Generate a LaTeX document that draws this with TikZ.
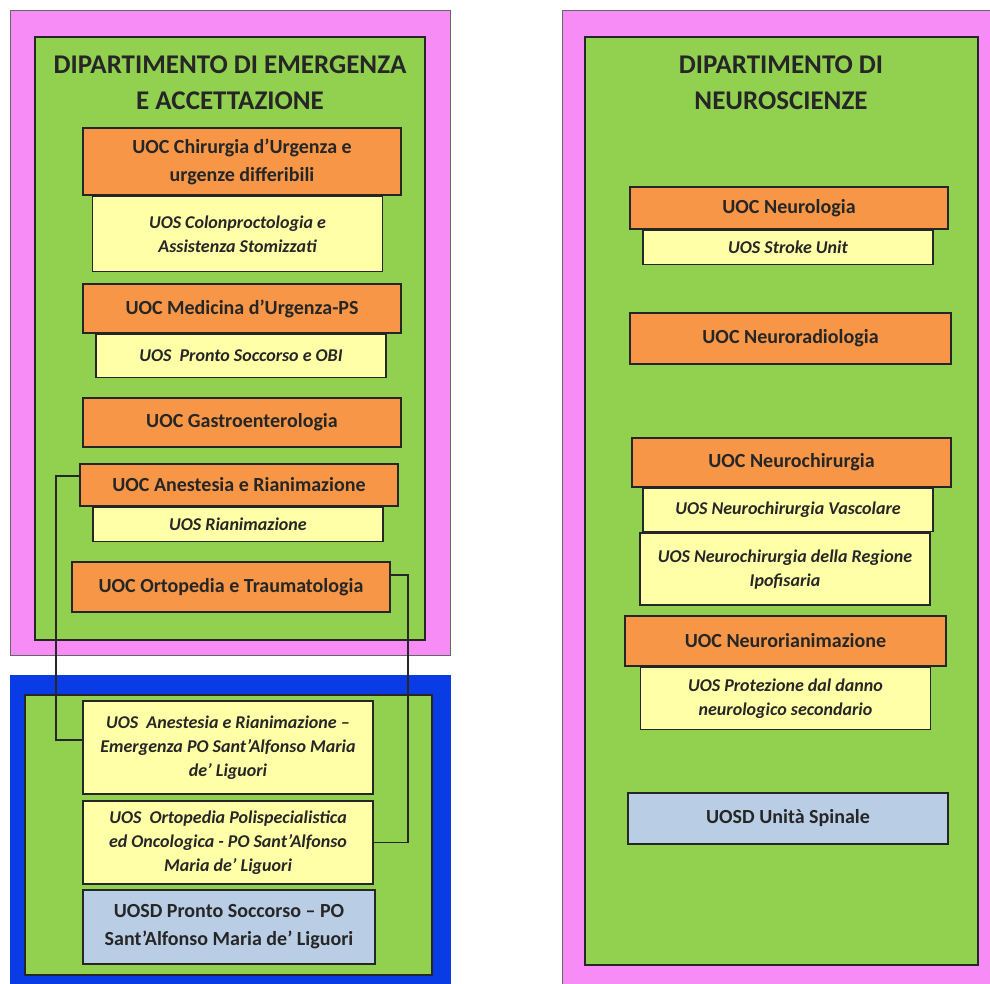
\documentclass[tikz,border=0pt]{standalone}
\usepackage{fontspec}
\setmainfont{Carlito}
\usetikzlibrary{positioning}
\definecolor{dippink}{HTML}{F78CF7}
\definecolor{dipgreen}{HTML}{92D050}
\definecolor{uocorange}{HTML}{F79646}
\definecolor{uosyellow}{HTML}{FFFFA8}
\definecolor{uosdblue}{HTML}{B9CDE5}
\definecolor{psblue}{HTML}{0A3CE6}
\definecolor{inkdark}{HTML}{262626}

\tikzset{
  frame/.style={draw=black!60,line width=0.8pt},
  dipbox/.style={draw=inkdark,line width=1.6pt,fill=dipgreen},
  diptitle/.style={align=center,text=inkdark,font=\fontsize{27}{36}\selectfont\bfseries},
  uoc/.style={draw=inkdark,line width=1.6pt,fill=uocorange,minimum width=318pt,inner sep=0pt,
    align=center,text=inkdark,font=\fontsize{20}{28}\selectfont\bfseries},
  uos/.style={draw=inkdark,line width=1.6pt,fill=uosyellow,minimum width=290pt,inner sep=0pt,
    align=center,text=inkdark,font=\fontsize{18}{24}\selectfont\bfseries\itshape},
  uosd/.style={draw=inkdark,line width=1.6pt,fill=uosdblue,minimum width=320pt,inner sep=0pt,
    align=center,text=inkdark,font=\fontsize{20}{28}\selectfont\bfseries},
  link/.style={draw=inkdark,line width=1.8pt}
}

\begin{document}
\begin{tikzpicture}[x=1pt,y=-1pt]
  \useasboundingbox[fill=white] (0,0) rectangle (990,983);

  % frames
  \draw[frame,fill=dippink] (10,10) rectangle (450,655);
  \draw[dipbox] (35,37) rectangle (425,640);
  \draw[frame,draw=psblue,fill=psblue] (10,675) rectangle (450,990);
  \draw[dipbox] (25,695) rectangle (432,975);
  \draw[frame,fill=dippink] (562,10) rectangle (995,990);
  \draw[dipbox] (585,37) rectangle (978,965);

  % titles
  \node[diptitle] (dea) at (230,83) {DIPARTIMENTO DI EMERGENZA\\E ACCETTAZIONE};
  \node[diptitle] (neuro) at (781,83) {DIPARTIMENTO DI\\NEUROSCIENZE};

  % emergenza e accettazione
  \node[uoc,minimum height=67pt] (chir) at (242,161.5) {UOC Chirurgia d'Urgenza e\\urgenze differibili};
  \node[uos,minimum height=75pt,below=0pt of chir,xshift=-4.5pt] (colon) {UOS Colonproctologia e\\Assistenza Stomizzati};
  \node[uoc,minimum height=49pt] (med) at (242,308.5) {UOC Medicina d'Urgenza-PS};
  \node[uos,minimum height=43pt,below=0pt of med,xshift=-1pt] (obi) {UOS\ \ Pronto Soccorso e OBI};
  \node[uoc,minimum height=49pt] (gastro) at (242,422.5) {UOC Gastroenterologia};
  \node[uoc,minimum height=42pt] (ane) at (239,485) {UOC Anestesia e Rianimazione};
  \node[uos,minimum height=34pt,below=0pt of ane,xshift=-1pt] (rian) {UOS Rianimazione};
  \node[uoc,minimum height=50pt] (orto) at (231,587) {UOC Ortopedia e Traumatologia};

  % presidio sant'alfonso
  \node[uos,minimum height=93pt] (uosane) at (228,747.5) {UOS\ \ Anestesia e Rianimazione --\\Emergenza PO Sant'Alfonso Maria\\de' Liguori};
  \node[uos,minimum height=83pt] (uosorto) at (228,842.5) {UOS\ \ Ortopedia Polispecialistica\\ed Oncologica - PO Sant'Alfonso\\Maria de' Liguori};
  \node[uosd,minimum width=292pt,minimum height=74pt] (ps) at (229,927) {UOSD Pronto Soccorso -- PO\\Sant'Alfonso Maria de' Liguori};

  % neuroscienze
  \node[uoc,minimum height=42pt] (neurol) at (789,208) {UOC Neurologia};
  \node[uos,minimum height=34pt,below=0pt of neurol,xshift=-1pt] (stroke) {UOS Stroke Unit};
  \node[uoc,minimum width=321pt,minimum height=51pt] (nrad) at (790.5,338.5) {UOC Neuroradiologia};
  \node[uoc,minimum width=319pt,minimum height=49pt] (nchir) at (791.5,462.5) {UOC Neurochirurgia};
  \node[uos,minimum height=43pt,below=0pt of nchir,xshift=-3.5pt] (vasc) {UOS Neurochirurgia Vascolare};
  \node[uos,minimum height=72pt,below=0pt of vasc,xshift=-3pt] (ipo) {UOS Neurochirurgia della Regione\\Ipofisaria};
  \node[uoc,minimum width=321pt,minimum height=50pt] (nrian) at (785.5,641) {UOC Neurorianimazione};
  \node[uos,minimum height=62pt,below=0pt of nrian] (prot) {UOS Protezione dal danno\\neurologico secondario};
  \node[uosd,minimum height=51pt] (spin) at (788,818.5) {UOSD Unità Spinale};

  % links
  \draw[link] ([yshift=9pt]ane.west) -| ([xshift=-26pt,yshift=7.5pt]uosane.west) -- ([yshift=7.5pt]uosane.west);
  \draw[link] ([yshift=12pt]orto.east) -| ([xshift=34pt]uosorto.east) -- (uosorto.east);
\end{tikzpicture}
\end{document}
